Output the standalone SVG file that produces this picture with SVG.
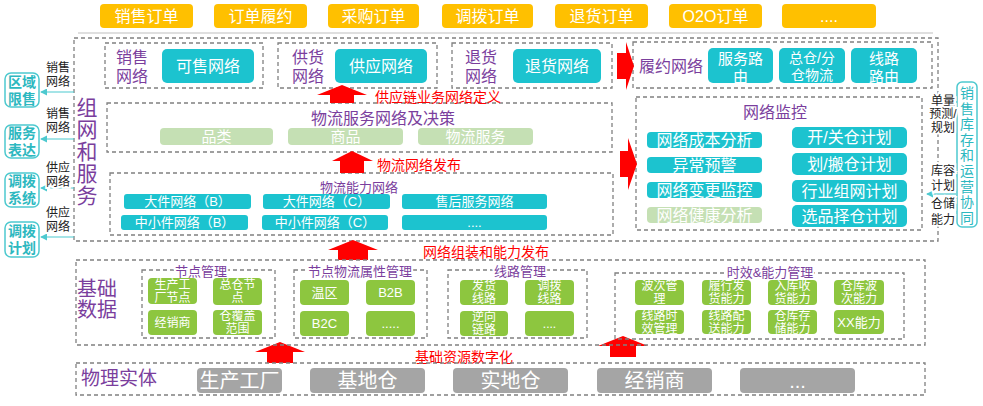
<svg xmlns="http://www.w3.org/2000/svg" width="983" height="406" viewBox="0 0 983 406">
<style>
text{font-family:'Liberation Sans','Noto Sans CJK SC',sans-serif;text-anchor:middle;dominant-baseline:central}
.dash{fill:none;stroke:#808080;stroke-width:1.3;stroke-dasharray:4 3}
.org{fill:#FFC000}
.cy{fill:#1CC3CF}
.lg{fill:#C5E0B4}
.gr{fill:#8DC63F}
.gy{fill:#A5A5A5}
.w{fill:#fff}
.p{fill:#7A3E9D}
.r{fill:#FF0000}
.k{fill:#222}
.tl{fill:#2DB8C0;font-weight:bold}
.bg{stroke:#fff;stroke-width:4;paint-order:stroke}
.st{text-anchor:start}
.tb{fill:#fff;stroke:#4DC9CF;stroke-width:1.5}
.cl{stroke:#4DC9CF;stroke-width:1.2;fill:none}
</style>
<defs>
<marker id="ah" viewBox="0 0 8 8" refX="7" refY="4" markerWidth="6" markerHeight="6" orient="auto">
<path d="M0,0 L8,4 L0,8 z" fill="#4DC9CF"/>
</marker>
</defs>

<g id="orders" font-size="16">
<rect class="org" x="100" y="4" width="93" height="24" rx="4"/><text class="w" x="146.5" y="16">销售订单</text>
<rect class="org" x="214" y="4" width="93" height="24" rx="4"/><text class="w" x="260.5" y="16">订单履约</text>
<rect class="org" x="328" y="4" width="91" height="24" rx="4"/><text class="w" x="373.5" y="16">采购订单</text>
<rect class="org" x="442" y="4" width="91" height="24" rx="4"/><text class="w" x="487.5" y="16">调拨订单</text>
<rect class="org" x="555" y="4" width="93" height="24" rx="4"/><text class="w" x="601.5" y="16">退货订单</text>
<rect class="org" x="669" y="4" width="93" height="24" rx="4"/><text class="w" x="715.5" y="16">O2O订单</text>
<rect class="org" x="782" y="4" width="94" height="24" rx="4"/><text class="w" x="829" y="16">....</text>
</g>
<line x1="78" y1="33" x2="933" y2="33" stroke="#BFBFBF" stroke-width="1.2"/>

<g id="network-service">
<rect class="dash" x="74" y="38" width="864" height="203"/>
<text class="p" font-size="21" x="87"><tspan x="87" y="107">组</tspan><tspan x="87" y="129">网</tspan><tspan x="87" y="151">和</tspan><tspan x="87" y="173">服</tspan><tspan x="87" y="195">务</tspan></text>
</g>

<g id="sales-net">
<rect class="dash" x="105" y="43" width="158" height="45"/>
<text class="p" font-size="16" x="132" y="57">销售</text><text class="p" font-size="16" x="132" y="76">网络</text>
<rect class="cy" x="162" y="49" width="92" height="34" rx="5"/><text class="w" font-size="16" x="208" y="66">可售网络</text>
</g>
<g id="supply-net">
<rect class="dash" x="278" y="43" width="159" height="45"/>
<text class="p" font-size="16" x="308" y="57">供货</text><text class="p" font-size="16" x="308" y="76">网络</text>
<rect class="cy" x="335" y="49" width="92" height="34" rx="5"/><text class="w" font-size="16" x="381" y="66">供应网络</text>
</g>
<g id="return-net">
<rect class="dash" x="452" y="43" width="160" height="45"/>
<text class="p" font-size="16" x="481" y="57">退货</text><text class="p" font-size="16" x="481" y="76">网络</text>
<rect class="cy" x="513" y="49" width="88" height="34" rx="5"/><text class="w" font-size="16" x="557" y="66">退货网络</text>
</g>
<g id="fulfil-net">
<rect class="dash" x="633" y="42" width="299" height="46"/>
<text class="p" font-size="16" x="671" y="66">履约网络</text>
<rect class="cy" x="708" y="48" width="65" height="35" rx="5"/><text class="w" font-size="15" x="740.5" y="58">服务路</text><text class="w" font-size="15" x="740.5" y="76">由</text>
<rect class="cy" x="779" y="48" width="66" height="35" rx="5"/><text class="w" font-size="14" x="812" y="58">总仓/分</text><text class="w" font-size="14" x="812" y="75">仓物流</text>
<rect class="cy" x="851" y="48" width="66" height="35" rx="5"/><text class="w" font-size="15" x="884" y="58">线路</text><text class="w" font-size="15" x="884" y="76">路由</text>
</g>

<g id="service-decision">
<rect class="dash" x="107" y="103" width="505" height="49"/>
<text class="p" font-size="16" x="383" y="118">物流服务网络及决策</text>
<rect class="lg" x="160" y="128" width="113" height="17" rx="4"/><text class="w" font-size="15" x="216.5" y="136.5">品类</text>
<rect class="lg" x="288" y="128" width="115" height="17" rx="4"/><text class="w" font-size="15" x="345.5" y="136.5">商品</text>
<rect class="lg" x="418" y="128" width="115" height="17" rx="4"/><text class="w" font-size="15" x="475.5" y="136.5">物流服务</text>
</g>

<g id="capability-net" font-size="13">
<rect class="dash" x="110" y="173" width="503" height="62"/>
<text class="p" x="359" y="187">物流能力网络</text>
<rect class="cy" x="124" y="194" width="127" height="15" rx="3"/><text class="w" x="187.5" y="201.5">大件网络（B）</text>
<rect class="cy" x="263" y="194" width="127" height="15" rx="3"/><text class="w" x="326.5" y="201.5">大件网络（C）</text>
<rect class="cy" x="402" y="194" width="145" height="15" rx="3"/><text class="w" x="474.5" y="201.5">售后服务网络</text>
<rect class="cy" x="121" y="215" width="127" height="15" rx="3"/><text class="w" x="184.5" y="222.5">中小件网络（B）</text>
<rect class="cy" x="262" y="215" width="126" height="15" rx="3"/><text class="w" x="325" y="222.5">中小件网络（C）</text>
<rect class="cy" x="402" y="215" width="145" height="15" rx="3"/><text class="w" x="474.5" y="222.5">....</text>
</g>

<g id="monitor" font-size="16">
<rect class="dash" x="636" y="97" width="286" height="133"/>
<text class="p" x="775" y="112">网络监控</text>
<rect class="cy" x="647" y="132" width="115" height="16" rx="4"/><text class="w" x="704.5" y="140">网络成本分析</text>
<rect class="cy" x="647" y="157" width="115" height="16" rx="4"/><text class="w" x="704.5" y="165">异常预警</text>
<rect class="cy" x="647" y="182" width="115" height="16" rx="4"/><text class="w" x="704.5" y="190">网络变更监控</text>
<rect class="lg" x="647" y="207" width="115" height="16" rx="4"/><text class="w" x="704.5" y="215">网络健康分析</text>
<rect class="cy" x="792" y="127" width="115" height="21" rx="5"/><text class="w" x="849.5" y="137.5">开/关仓计划</text>
<rect class="cy" x="792" y="153" width="115" height="22" rx="5"/><text class="w" x="849.5" y="164">划/搬仓计划</text>
<rect class="cy" x="792" y="180" width="115" height="22" rx="5"/><text class="w" x="849.5" y="191">行业组网计划</text>
<rect class="cy" x="792" y="205" width="115" height="22" rx="5"/><text class="w" x="849.5" y="216">选品择仓计划</text>
</g>

<g id="left-targets" font-size="14">
<rect class="tb" x="5" y="73" width="34" height="34" rx="6"/><text class="tl" x="22" y="82">区域</text><text class="tl" x="22" y="99">限售</text>
<rect class="tb" x="5" y="125" width="34" height="33" rx="6"/><text class="tl" x="22" y="133">服务</text><text class="tl" x="22" y="150">表达</text>
<rect class="tb" x="5" y="173" width="34" height="34" rx="6"/><text class="tl" x="22" y="181">调拨</text><text class="tl" x="22" y="198">系统</text>
<rect class="tb" x="5" y="222" width="34" height="35" rx="6"/><text class="tl" x="22" y="231">调拨</text><text class="tl" x="22" y="248">计划</text>
</g>

<g id="right-target">
<rect class="tb" x="957" y="82" width="20" height="145" rx="5"/>
<text class="tl" font-size="14" style="font-weight:normal"><tspan x="967" y="93">销</tspan><tspan x="967" y="108.6">售</tspan><tspan x="967" y="124.2">库</tspan><tspan x="967" y="139.8">存</tspan><tspan x="967" y="155.4">和</tspan><tspan x="967" y="171">运</tspan><tspan x="967" y="186.6">营</tspan><tspan x="967" y="202.2">协</tspan><tspan x="967" y="217.8">同</tspan></text>
</g>

<g id="connectors">
<line class="cl" x1="74" y1="92" x2="41" y2="92" marker-end="url(#ah)"/>
<line class="cl" x1="74" y1="139" x2="41" y2="139" marker-end="url(#ah)"/>
<line class="cl" x1="74" y1="188" x2="41" y2="188" marker-end="url(#ah)"/>
<line class="cl" x1="74" y1="237" x2="41" y2="237" marker-end="url(#ah)"/>
<line class="cl" x1="956" y1="117" x2="929" y2="117" marker-end="url(#ah)"/>
<line class="cl" x1="956" y1="194" x2="927" y2="194" marker-end="url(#ah)"/>
<polygon class="r" points="617,53 626,53 626,42 634,66 626,90 626,79 617,79"/>
<polygon class="r" points="620,151 628,151 628,138 637,164 628,190 628,177 620,177"/>
<polygon class="r" points="342,85 367,95 354,95 354,103 330,103 330,95 317,95"/>
<polygon class="r" points="352,151 373,161 364,161 364,173 340,173 340,161 332,161"/>
<polygon class="r" points="353,240 378,250 368,250 368,260 338,260 338,250 328,250"/>
<polygon class="r" points="280,342 305,352 293,352 293,363 267,363 267,352 255,352"/>
<polygon class="r" points="623,336 648,346 636,346 636,357 610,357 610,346 598,346"/>
</g>

<g id="edge-labels" font-size="12">
<text class="k bg" x="58" y="68">销售</text><text class="k bg" x="58" y="82">网络</text>
<text class="k bg" x="58" y="114">销售</text><text class="k bg" x="58" y="128">网络</text>
<text class="k bg" x="58" y="168">供应</text><text class="k bg" x="58" y="182">网络</text>
<text class="k bg" x="58" y="213">供应</text><text class="k bg" x="58" y="227">网络</text>
<text class="k bg" x="943" y="101">单量</text><text class="k bg" x="943" y="114">预测/</text><text class="k bg" x="943" y="128">规划</text>
<text class="k bg" x="943" y="171">库容</text><text class="k bg" x="943" y="186">计划</text>
<text class="k bg" x="943" y="204">仓储</text><text class="k bg" x="943" y="220">能力</text>
<text class="r st" font-size="14" x="375" y="97">供应链业务网络定义</text>
<text class="r st" font-size="14" x="377" y="165">物流网络发布</text>
<text class="r st" font-size="14" x="423" y="252">网络组装和能力发布</text>
<text class="r st" font-size="14" x="415" y="357">基础资源数字化</text>
</g>

<g id="base-data">
<rect class="dash" x="76" y="260" width="849" height="85"/>
<text class="p" font-size="20" x="97" y="289">基础</text><text class="p" font-size="20" x="97" y="310">数据</text>
</g>
<g id="node-mgmt" font-size="12">
<rect class="dash" x="142" y="270" width="133" height="68"/>
<text class="p bg" font-size="13" x="201" y="271">节点管理</text>
<rect class="gr" x="148" y="278" width="49" height="26" rx="4"/><text class="w" x="172.5" y="284.5">生产工</text><text class="w" x="172.5" y="297.5">厂节点</text>
<rect class="gr" x="213" y="278" width="49" height="27" rx="4"/><text class="w" x="237.5" y="285">总仓节</text><text class="w" x="237.5" y="298">点</text>
<rect class="gr" x="148" y="310" width="49" height="25" rx="4"/><text class="w" x="172.5" y="322.5">经销商</text>
<rect class="gr" x="213" y="310" width="49" height="25" rx="4"/><text class="w" x="237.5" y="316">仓覆盖</text><text class="w" x="237.5" y="329">范围</text>
</g>
<g id="attr-mgmt" font-size="13">
<rect class="dash" x="294" y="270" width="133" height="68"/>
<text class="p bg" x="360" y="271">节点物流属性管理</text>
<rect class="gr" x="300" y="280" width="49" height="25" rx="4"/><text class="w" x="324.5" y="292.5">温区</text>
<rect class="gr" x="366" y="280" width="49" height="25" rx="4"/><text class="w" x="390.5" y="292.5">B2B</text>
<rect class="gr" x="300" y="311" width="49" height="25" rx="4"/><text class="w" x="324.5" y="323.5">B2C</text>
<rect class="gr" x="366" y="311" width="49" height="25" rx="4"/><text class="w" x="390.5" y="323.5">.....</text>
</g>
<g id="line-mgmt" font-size="12">
<rect class="dash" x="448" y="270" width="139" height="68"/>
<text class="p bg" font-size="13" x="520" y="271">线路管理</text>
<rect class="gr" x="460" y="280" width="48" height="25" rx="4"/><text class="w" x="484" y="286">发货</text><text class="w" x="484" y="299">线路</text>
<rect class="gr" x="525" y="280" width="49" height="25" rx="4"/><text class="w" x="549.5" y="286">调拨</text><text class="w" x="549.5" y="299">线路</text>
<rect class="gr" x="460" y="311" width="48" height="25" rx="4"/><text class="w" x="484" y="317">逆向</text><text class="w" x="484" y="330">链路</text>
<rect class="gr" x="525" y="311" width="49" height="25" rx="4"/><text class="w" x="549.5" y="323.5">....</text>
</g>
<g id="capability-mgmt" font-size="12">
<rect class="dash" x="615" y="273" width="289" height="66"/>
<text class="p bg" font-size="13" x="770" y="272">时效&amp;能力管理</text>
<rect class="gr" x="635" y="280" width="49" height="25" rx="4"/><text class="w" x="659.5" y="286">波次管</text><text class="w" x="659.5" y="299">理</text>
<rect class="gr" x="702" y="280" width="49" height="25" rx="4"/><text class="w" x="726.5" y="286">履行发</text><text class="w" x="726.5" y="299">货能力</text>
<rect class="gr" x="768" y="280" width="49" height="25" rx="4"/><text class="w" x="792.5" y="286">入库收</text><text class="w" x="792.5" y="299">货能力</text>
<rect class="gr" x="834" y="280" width="50" height="25" rx="4"/><text class="w" x="859" y="286">仓库波</text><text class="w" x="859" y="299">次能力</text>
<rect class="gr" x="635" y="310" width="49" height="24" rx="4"/><text class="w" x="659.5" y="315.5">线路时</text><text class="w" x="659.5" y="328.5">效管理</text>
<rect class="gr" x="702" y="310" width="49" height="24" rx="4"/><text class="w" x="726.5" y="315.5">线路配</text><text class="w" x="726.5" y="328.5">送能力</text>
<rect class="gr" x="768" y="310" width="49" height="24" rx="4"/><text class="w" x="792.5" y="315.5">仓库存</text><text class="w" x="792.5" y="328.5">储能力</text>
<rect class="gr" x="834" y="310" width="50" height="24" rx="4"/><text class="w" font-size="13" x="859" y="322">XX能力</text>
</g>

<g id="physical" font-size="20">
<rect class="dash" x="76" y="363" width="849" height="32"/>
<text class="p" font-size="19" x="119" y="378">物理实体</text>
<rect class="gy" x="197" y="368" width="85" height="25" rx="4"/><text class="w" x="239.5" y="380.5">生产工厂</text>
<rect class="gy" x="310" y="368" width="115" height="25" rx="4"/><text class="w" x="367.5" y="380.5">基地仓</text>
<rect class="gy" x="453" y="368" width="115" height="25" rx="4"/><text class="w" x="510.5" y="380.5">实地仓</text>
<rect class="gy" x="597" y="368" width="115" height="25" rx="4"/><text class="w" x="654.5" y="380.5">经销商</text>
<rect class="gy" x="740" y="368" width="115" height="25" rx="4"/><text class="w" x="797.5" y="380.5">...</text>
</g>
</svg>
